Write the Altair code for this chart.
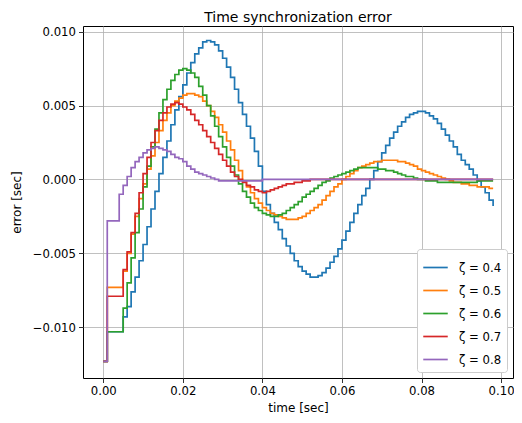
import altair as alt
import pandas as pd

# time samples in milliseconds (0 .. 98 ms)
t_ms = list(range(99))

series_names = ["ζ = 0.4", "ζ = 0.5", "ζ = 0.6", "ζ = 0.7", "ζ = 0.8"]
colors = ["#1f77b4", "#ff7f0e", "#2ca02c", "#d62728", "#9467bd"]

z04 = [
    -0.0123, -0.0103, -0.0103, -0.0103, -0.0103,
    -0.0093, -0.0086, -0.0076, -0.0066, -0.0055,
    -0.0044, -0.0032, -0.0020, -0.0008, 0.0004,
    0.0015, 0.0026, 0.0037, 0.0047, 0.0056,
    0.0064, 0.0072, 0.0079, 0.0085, 0.0089,
    0.0093, 0.0094, 0.0093, 0.0091, 0.0087,
    0.0082, 0.0076, 0.0069, 0.0061, 0.0052,
    0.0044, 0.0036, 0.0028, 0.0019, 0.0009,
    -0.0008, -0.0017, -0.0023, -0.0029, -0.0034,
    -0.0040, -0.0045, -0.0050, -0.0055, -0.0059,
    -0.0062, -0.0064, -0.0066, -0.0066, -0.0065,
    -0.0063, -0.0060, -0.0056, -0.0052, -0.0047,
    -0.0041, -0.0035, -0.0029, -0.0023, -0.0017,
    -0.0011, -0.0006, 0.0000, 0.0006, 0.0012,
    0.0018, 0.0023, 0.0028, 0.0032, 0.0036,
    0.0039, 0.0042, 0.0044, 0.0045, 0.0046,
    0.0046, 0.0045, 0.0043, 0.0041, 0.0038,
    0.0034, 0.0030, 0.0026, 0.0022, 0.0017,
    0.0013, 0.0010, 0.0007, 0.0003, -0.0001,
    -0.0005, -0.0009, -0.0014, -0.0018,
]

z05 = [
    -0.0123, -0.0073, -0.0073, -0.0073, -0.0073,
    -0.0062, -0.0050, -0.0037, -0.0025, -0.0013,
    -0.0003, 0.0007, 0.0016, 0.0025, 0.0033,
    0.0040, 0.0045, 0.0050, 0.0053, 0.0055,
    0.0057, 0.0058, 0.0058, 0.0057, 0.0056,
    0.0053, 0.0050, 0.0046, 0.0042, 0.0037,
    0.0032, 0.0026, 0.0020, 0.0013, 0.0006,
    -0.0001, -0.0005, -0.0009, -0.0013, -0.0016,
    -0.0019, -0.0021, -0.0023, -0.0024, -0.0025,
    -0.0026, -0.0027, -0.0027, -0.0027, -0.0026,
    -0.0025, -0.0023, -0.0021, -0.0019, -0.0017,
    -0.0014, -0.0011, -0.0008, -0.0005, -0.0003,
    0.0000, 0.0002, 0.0004, 0.0006, 0.0008,
    0.0009, 0.0010, 0.0011, 0.0012, 0.0012,
    0.0013, 0.0013, 0.0013, 0.0013, 0.0012,
    0.0012, 0.0011, 0.0010, 0.0009, 0.0007,
    0.0006, 0.0005, 0.0004, 0.0003, 0.0002,
    0.0001, 0.0000, -0.0001, -0.0002, -0.0002,
    -0.0003, -0.0003, -0.0004, -0.0004, -0.0005,
    -0.0005, -0.0005, -0.0006, -0.0006,
]

z06 = [
    -0.0123, -0.0103, -0.0103, -0.0103, -0.0103,
    -0.0087, -0.0070, -0.0053, -0.0036, -0.0020,
    -0.0005, 0.0009, 0.0022, 0.0034, 0.0045,
    0.0054, 0.0061, 0.0067, 0.0071, 0.0074,
    0.0075, 0.0074, 0.0072, 0.0069, 0.0063,
    0.0057, 0.0050, 0.0043, 0.0036, 0.0029,
    0.0022, 0.0015, 0.0009, 0.0003, -0.0003,
    -0.0008, -0.0012, -0.0016, -0.0019, -0.0021,
    -0.0023, -0.0024, -0.0025, -0.0025, -0.0024,
    -0.0023, -0.0021, -0.0019, -0.0017, -0.0015,
    -0.0012, -0.0010, -0.0008, -0.0006, -0.0004,
    -0.0002, -0.0001, 0.0001, 0.0002, 0.0003,
    0.0004, 0.0005, 0.0006, 0.0007, 0.0008,
    0.0008, 0.0008, 0.0008, 0.0008, 0.0007,
    0.0007, 0.0006, 0.0006, 0.0005, 0.0004,
    0.0003, 0.0002, 0.0002, 0.0001, 0.0000,
    0.0000, -0.0001, -0.0001, -0.0001, -0.0002,
    -0.0002, -0.0002, -0.0002, -0.0002, -0.0002,
    -0.0002, -0.0002, -0.0002, -0.0002, -0.0001,
    -0.0001, -0.0001, -0.0001, -0.0001,
]

z07 = [
    -0.0123, -0.0079, -0.0079, -0.0079, -0.0079,
    -0.0061, -0.0049, -0.0036, -0.0023, -0.0009,
    0.0004, 0.0015, 0.0025, 0.0033, 0.0040,
    0.0045, 0.0049, 0.0051, 0.0052, 0.0051,
    0.0049, 0.0047, 0.0044, 0.0040, 0.0037,
    0.0033, 0.0029, 0.0025, 0.0021, 0.0017,
    0.0013, 0.0009, 0.0005, 0.0002, 0.0000,
    -0.0002, -0.0004, -0.0005, -0.0007, -0.0008,
    -0.0009, -0.0008, -0.0007, -0.0006, -0.0005,
    -0.0004, -0.0003, -0.0003, -0.0002, -0.0002,
    -0.0001, -0.0001, 0.0000, 0.0000, 0.0000,
    0.0000, 0.0000, 0.0000, 0.0000, 0.0000,
    0.0000, 0.0000, 0.0000, 0.0000, 0.0000,
    0.0000, 0.0000, 0.0000, 0.0000, 0.0000,
    0.0000, 0.0000, 0.0000, 0.0000, 0.0000,
    0.0000, 0.0000, 0.0000, 0.0000, 0.0000,
    0.0000, 0.0000, 0.0000, 0.0000, 0.0000,
    0.0000, 0.0000, 0.0000, 0.0000, 0.0000,
    0.0000, 0.0000, 0.0000, 0.0000, 0.0000,
    0.0000, 0.0000, 0.0000, 0.0000,
]

z08 = [
    -0.0123, -0.0028, -0.0028, -0.0028, -0.0010,
    -0.0004, 0.0002, 0.0008, 0.0012, 0.0015,
    0.0018, 0.0020, 0.0021, 0.0022, 0.0021,
    0.0020, 0.0019, 0.0017, 0.0015, 0.0014,
    0.0012, 0.0009, 0.0007, 0.0005, 0.0004,
    0.0003, 0.0002, 0.0001, 0.0000, -0.0001,
    -0.0001, -0.0001, -0.0001, -0.0001, -0.0001,
    -0.0001, -0.0001, -0.0001, -0.0001, -0.0001,
    0.0000, 0.0000, 0.0000, 0.0000, 0.0000,
    0.0000, 0.0000, 0.0000, 0.0000, 0.0000,
    0.0000, 0.0000, 0.0000, 0.0000, 0.0000,
    0.0000, 0.0000, 0.0000, 0.0000, 0.0000,
    0.0000, 0.0000, 0.0000, 0.0000, 0.0000,
    0.0000, 0.0000, 0.0000, 0.0000, 0.0000,
    0.0000, 0.0000, 0.0000, 0.0000, 0.0000,
    0.0000, 0.0000, 0.0000, 0.0000, 0.0000,
    0.0000, 0.0000, 0.0000, 0.0000, 0.0000,
    0.0000, 0.0000, 0.0000, 0.0000, 0.0000,
    0.0000, 0.0000, 0.0000, 0.0000, 0.0000,
    0.0000, 0.0000, 0.0000, 0.0000,
]

x_ticks = [0.0, 0.02, 0.04, 0.06, 0.08, 0.10]
y_ticks = [-0.010, -0.005, 0.0, 0.005, 0.010]

rows = []
for k, (name, vals) in enumerate(zip(series_names, [z04, z05, z06, z07, z08])):
    for ms, v in zip(t_ms, vals):
        rows.append({"t": ms / 1000.0, "err": v, "series": name, "k": k})
df = pd.DataFrame(rows)

FONT = "DejaVu Sans"
FS = 11.7

chart = (
    alt.Chart(df)
    .mark_line(interpolate="step-after", strokeWidth=1.7)
    .encode(
        x=alt.X(
            "t:Q",
            title="time [sec]",
            scale=alt.Scale(domain=[-0.0051, 0.1030], nice=False, zero=False),
            axis=alt.Axis(values=x_ticks, format=".2f", titleX=215, titleY=29,
                          titleBaseline="middle"),
        ),
        y=alt.Y(
            "err:Q",
            title="error [sec]",
            scale=alt.Scale(domain=[-0.01343, 0.01038], nice=False, zero=False),
            axis=alt.Axis(values=y_ticks, format=".3f", titleX=-67, titleY=176,
                          titleBaseline="middle"),
        ),
        color=alt.Color(
            "series:N",
            scale=alt.Scale(domain=series_names, range=colors),
            legend=alt.Legend(
                title=None,
                orient="bottom-right",
                offset=6,
                symbolType="stroke",
                symbolSize=600,
                symbolStrokeWidth=1.7,
                labelFontSize=FS,
                labelFont=FONT,
                labelColor="#000000",
                labelOffset=10,
                rowPadding=2,
                padding=5,
                fillColor="#ffffff",
                strokeColor="#cccccc",
                cornerRadius=3,
            ),
        ),
        order=alt.Order("t:Q"),
        detail="k:N",
    )
    .properties(
        width=430,
        height=352,
        title=alt.Title("Time synchronization error", font=FONT, fontSize=14,
                        fontWeight="normal", color="#000000", offset=1),
        autosize=alt.AutoSizeParams(type="none"),
        padding={"left": 75, "top": 18, "right": 1, "bottom": 36},
    )
    .configure_view(stroke="#000000", strokeWidth=1)
    .configure_axis(
        labelFont=FONT,
        labelFontSize=FS,
        labelColor="#000000",
        titleFont=FONT,
        titleFontSize=12,
        titleFontWeight="normal",
        titleColor="#000000",
        grid=True,
        gridColor="#b0b0b0",
        gridWidth=0.8,
        domain=False,
        tickColor="#000000",
        tickSize=4.5,
        tickWidth=0.8,
        labelPadding=3,
    )
)

chart.save("out.html", embed_options={"renderer": "svg", "actions": False})
